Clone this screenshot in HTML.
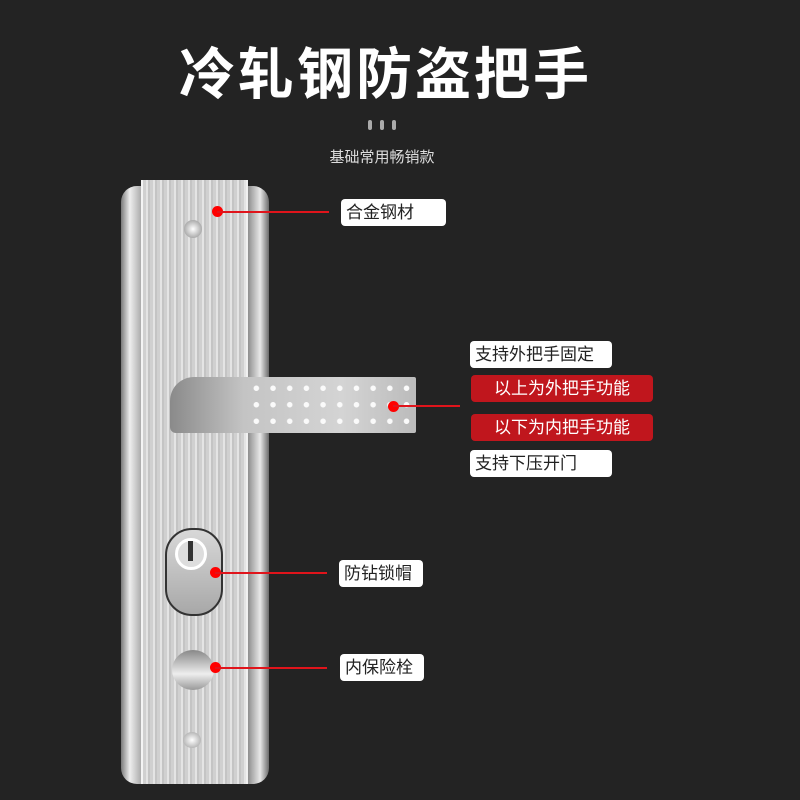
<!DOCTYPE html>
<html><head><meta charset="utf-8"><style>
body{margin:0;width:800px;height:800px;background:#232323;position:relative;overflow:hidden;font-family:"Liberation Sans","Noto Sans CJK SC",sans-serif}
.a{position:absolute}
.lbl{position:absolute;background:#fff;color:#222;font-size:17px;line-height:27px;border-radius:4px;padding:0 5px;box-sizing:border-box;height:27px}
.red{background:#c0161d;color:#fff;text-align:center}
.ln{position:absolute;height:2px;background:#e0141b}
.dot{position:absolute;width:11px;height:11px;border-radius:50%;background:#f00}
</style></head><body>
<div class="a" style="left:0;top:30px;width:771px;text-align:center;color:#fff;font-size:56px;font-weight:bold;letter-spacing:3px">冷轧钢防盗把手</div>
<div class="a" style="left:368px;top:120px;width:4px;height:10px;background:#aaa;border-radius:2px"></div>
<div class="a" style="left:380px;top:120px;width:4px;height:10px;background:#aaa;border-radius:2px"></div>
<div class="a" style="left:392px;top:120px;width:4px;height:10px;background:#aaa;border-radius:2px"></div>
<div class="a" style="left:0;top:146px;width:764px;text-align:center;color:#ddd;font-size:15px">基础常用畅销款</div>
<div class="a" style="left:121px;top:186px;width:148px;height:598px;border-radius:16px;background:linear-gradient(90deg,#7a7a7a,#eee 6%,#a8a8a8 14%,#d8d8d8 50%,#909090 86%,#e8e8e8 94%,#6a6a6a)"></div>
<div class="a" style="left:141px;top:180px;width:103px;height:604px;background:repeating-linear-gradient(90deg,#d0d0d0 0 3px,#e4e4e4 3px 5px,#c4c4c4 5px 7px);border-left:2px solid #f4f4f4;border-right:2px solid #f0f0f0"></div>
<div class="a" style="left:184px;top:220px;width:18px;height:18px;border-radius:50%;background:radial-gradient(#fff,#888)"></div>
<div class="a" style="left:183px;top:732px;width:18px;height:16px;border-radius:50%;background:radial-gradient(#fff,#999)"></div>
<div class="a" style="left:170px;top:377px;width:246px;height:56px;border-radius:24px 2px 2px 6px;background:linear-gradient(90deg,#8a8a8a,#c4c4c4 30%,#d4d4d4 70%,#bbb)"></div>
<div class="a" style="left:248px;top:380px;width:167px;height:50px;background-image:radial-gradient(circle,#fafafa 2.5px,transparent 3px);background-size:16.7px 16.5px"></div>
<div class="a" style="left:165px;top:528px;width:54px;height:84px;border-radius:27px;background:linear-gradient(#d8d8d8,#a8a8a8);border:2px solid #333"></div>
<div class="a" style="left:175px;top:538px;width:32px;height:32px;border-radius:50%;background:#ddd;border:3px solid #fff;box-sizing:border-box"></div>
<div class="a" style="left:188px;top:541px;width:5px;height:20px;background:#333"></div>
<div class="a" style="left:172px;top:650px;width:42px;height:40px;border-radius:50%;background:linear-gradient(#888,#ccc 40%,#eee 60%,#999)"></div>
<div class="dot" style="left:212px;top:206px"></div><div class="ln" style="left:217px;top:211px;width:112px"></div>
<div class="dot" style="left:388px;top:401px"></div><div class="ln" style="left:393px;top:405px;width:67px"></div>
<div class="dot" style="left:210px;top:567px"></div><div class="ln" style="left:215px;top:572px;width:112px"></div>
<div class="dot" style="left:210px;top:662px"></div><div class="ln" style="left:215px;top:667px;width:112px"></div>
<div class="lbl" style="left:341px;top:199px;width:105px">合金钢材</div>
<div class="lbl" style="left:470px;top:341px;width:142px">支持外把手固定</div>
<div class="lbl red" style="left:471px;top:375px;width:182px">以上为外把手功能</div>
<div class="lbl red" style="left:471px;top:414px;width:182px">以下为内把手功能</div>
<div class="lbl" style="left:470px;top:450px;width:142px">支持下压开门</div>
<div class="lbl" style="left:339px;top:560px;width:84px">防钻锁帽</div>
<div class="lbl" style="left:340px;top:654px;width:84px">内保险栓</div>
</body></html>
